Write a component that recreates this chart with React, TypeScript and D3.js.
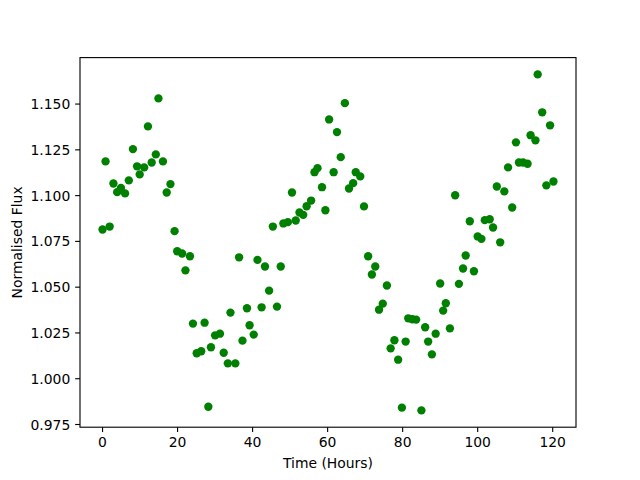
import React from "react";
import * as d3 from "d3";

const timeHours: number[] = [
  0.0, 0.8, 1.9, 2.9, 3.9, 4.9, 6.0, 7.0, 8.1, 9.2, 9.9, 11.1, 12.1, 13.1, 14.2, 14.9,
  16.1, 17.1, 18.1, 19.2, 19.9, 21.2, 22.1, 23.3, 24.1, 25.1, 26.3, 27.2, 28.2, 28.9,
  30.0, 31.3, 32.3, 33.4, 34.1, 35.4, 36.4, 37.3, 38.5, 39.2, 40.3, 41.3, 42.4, 43.3,
  44.4, 45.4, 46.5, 47.5, 48.2, 49.4, 50.5, 51.5, 52.5, 53.5, 54.4, 55.6, 56.5, 57.3,
  58.5, 59.4, 60.4, 61.6, 62.5, 63.5, 64.6, 65.7, 66.8, 67.5, 68.7, 69.7, 70.8, 71.8,
  72.7, 73.7, 74.7, 75.8, 76.8, 77.8, 78.8, 79.8, 80.8, 81.5, 82.6, 83.6, 85.0, 86.0,
  86.8, 87.8, 88.8, 90.0, 90.8, 91.5, 92.6, 94.0, 95.0, 96.1, 96.8, 97.9, 99.0, 100.0,
  101.0, 101.9, 103.2, 104.1, 105.1, 106.0, 107.1, 108.1, 109.2, 110.2, 111.0, 112.1,
  113.3, 114.1, 115.4, 116.0, 117.2, 118.3, 119.3, 120.2,
];

const normalisedFlux: number[] = [
  1.0815, 1.1187, 1.0831, 1.1066, 1.1019, 1.1042, 1.1012, 1.1083, 1.1254, 1.116, 1.1116,
  1.1154, 1.1378, 1.1181, 1.1225, 1.1531, 1.1187, 1.1017, 1.1063, 1.0806, 1.0696, 1.0684,
  1.0592, 1.0669, 1.0301, 1.0139, 1.015, 1.0306, 0.9847, 1.0172, 1.0237, 1.0246, 1.0142,
  1.0084, 1.0361, 1.0084, 1.0663, 1.0208, 1.0385, 1.0292, 1.0241, 1.0649, 1.039, 1.0613,
  1.0481, 1.0831, 1.0394, 1.0613, 1.0848, 1.0855, 1.1017, 1.0864, 1.0908, 1.0895, 1.0942,
  1.0973, 1.1128, 1.115, 1.1046, 1.092, 1.1416, 1.1128, 1.1347, 1.121, 1.1505, 1.1039,
  1.1068, 1.1128, 1.1105, 1.0941, 1.0669, 1.0569, 1.0613, 1.0377, 1.041, 1.0509, 1.0166,
  1.021, 1.0104, 0.9842, 1.0203, 1.033, 1.0325, 1.0323, 0.9827, 1.0281, 1.0203, 1.0133,
  1.0246, 1.052, 1.0372, 1.0412, 1.0275, 1.1002, 1.0518, 1.0602, 1.0673, 1.086, 1.0587,
  1.0777, 1.0764, 1.0866, 1.0871, 1.0826, 1.105, 1.0745, 1.1023, 1.1154, 1.0935, 1.1291,
  1.1181, 1.1181, 1.1174, 1.133, 1.1302, 1.1662, 1.1455, 1.1056, 1.1384, 1.1077,
];

const xTicks: number[] = [0, 20, 40, 60, 80, 100, 120];
const yTicks: number[] = [0.975, 1.0, 1.025, 1.05, 1.075, 1.1, 1.125, 1.15];

const xLabel = "Time (Hours)";
const yLabel = "Normalised Flux";

export default function App() {
  const W = 640;
  const H = 480;
  const left = 80;
  const right = 576;
  const top = 57.6;
  const bottom = 427.2;

  const xMin = d3.min(timeHours)!;
  const xMax = d3.max(timeHours)!;
  const yMin = d3.min(normalisedFlux)!;
  const yMax = d3.max(normalisedFlux)!;
  const xm = (xMax - xMin) * 0.05;
  const ym = (yMax - yMin) * 0.05;

  const x = d3.scaleLinear().domain([xMin - xm, xMax + xm]).range([left, right]);
  const y = d3.scaleLinear().domain([yMin - ym, yMax + ym]).range([bottom, top]);

  const font = "DejaVu Sans, sans-serif";
  const fs = 13.9;
  const tickLen = 4.86;
  const pad = 4.86;

  return (
    <svg
      width={W}
      height={H}
      style={{ position: "absolute", left: 0, top: 0, background: "#fff" }}
      fontFamily={font}
    >
      <rect x={0} y={0} width={W} height={H} fill="#fff" />
      {timeHours.map((t, i) => (
        <circle key={i} cx={x(t)} cy={y(normalisedFlux[i])} r={4.17} fill="#008000" />
      ))}
      <rect
        x={left}
        y={top}
        width={right - left}
        height={bottom - top}
        fill="none"
        stroke="#000"
        strokeWidth={1.11}
      />
      {xTicks.map((t) => (
        <g key={"x" + t}>
          <line x1={x(t)} x2={x(t)} y1={bottom} y2={bottom + tickLen} stroke="#000" strokeWidth={1.11} />
          <text
            x={x(t)}
            y={bottom + tickLen + pad}
            dy="0.76em"
            textAnchor="middle"
            fontSize={fs}
            fill="#000"
          >
            {t}
          </text>
        </g>
      ))}
      {yTicks.map((t) => (
        <g key={"y" + t}>
          <line x1={left - tickLen} x2={left} y1={y(t)} y2={y(t)} stroke="#000" strokeWidth={1.11} />
          <text
            x={left - tickLen - pad}
            y={y(t)}
            dy="0.36em"
            textAnchor="end"
            fontSize={fs}
            fill="#000"
          >
            {d3.format(".3f")(t)}
          </text>
        </g>
      ))}
      <text x={(left + right) / 2} y={468} textAnchor="middle" fontSize={fs} fill="#000">
        {xLabel}
      </text>
      <text
        transform={`translate(22,${(top + bottom) / 2}) rotate(-90)`}
        textAnchor="middle"
        fontSize={fs}
        fill="#000"
      >
        {yLabel}
      </text>
    </svg>
  );
}
